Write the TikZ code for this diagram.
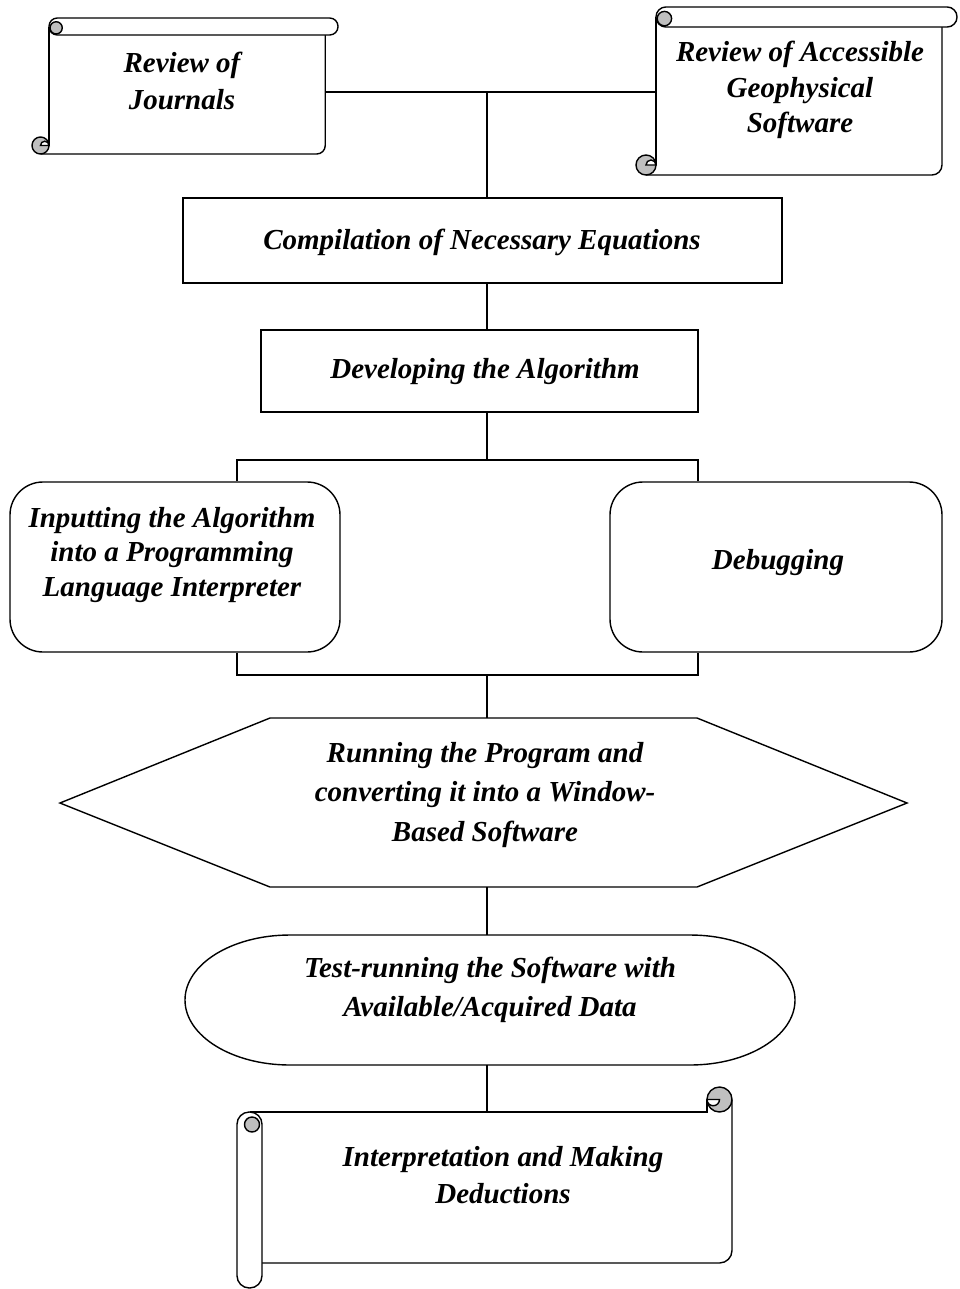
\documentclass[tikz,border=0pt]{standalone}
\usepackage{fontspec}
\setmainfont{Liberation Serif}
\usetikzlibrary{calc}
\definecolor{curlgray}{gray}{0.75}
% horizontal scroll: (left, top, right, bottom, roll)
\def\hscroll(#1,#2,#3,#4,#5){%
  \fill[white] ({#1+#5},{#2+#5/2}) rectangle ({#3-0.75*#5},#4);
  \draw ({#1+#5},{#2+#5/2}) -- ({#1+#5},{#4-#5/2});
  \draw[rounded corners={#5*0.1mm}] ({#1+#5/2},#4) -- ({#3-0.75*#5},#4) -- ({#3-0.75*#5},{#2+#5});
  \draw[fill=white, rounded corners={#5*0.098mm}] ({#1+#5},#2) rectangle (#3,{#2+#5});
  \draw[fill=curlgray] ({#1+1.42*#5},{#2+0.58*#5}) circle ({0.36*#5});
  \draw[fill=curlgray] ({#1+#5/2},{#4-#5/2}) circle ({#5/2});
  \draw[fill=white] ({#1+#5/2},{#4-#5/2}) arc[start angle=180, end angle=360, radius={#5/4}] -- cycle;
}
% vertical scroll: (left, top, right, bottom, roll)
\def\vscroll(#1,#2,#3,#4,#5){%
  \fill[white] ({#1+#5},{#2+#5}) rectangle (#3,{#4-#5});
  \draw ({#1+#5/2},{#2+#5}) -- ({#3-#5},{#2+#5}) -- ({#3-#5},{#2+#5/2});
  \draw[rounded corners={#5*0.1mm}] (#3,{#2+#5/2}) -- (#3,{#4-#5}) -- ({#1+#5},{#4-#5});
  \draw[fill=curlgray] ({#3-#5/2},{#2+#5/2}) circle ({#5/2});
  \draw[fill=white] ({#3-#5},{#2+#5/2}) arc[start angle=180, end angle=0, radius={#5/4}] -- cycle;
  \draw[fill=white, rounded corners={#5*0.098mm}] (#1,{#2+#5}) rectangle ({#1+#5},#4);
  \draw[fill=curlgray] ({#1+0.6*#5},{#2+1.5*#5}) circle ({0.3*#5});
}
\tikzset{
  lbl/.style={font=\bfseries\itshape\fontsize{16.5}{21.5}\selectfont, align=center, inner sep=0pt},
  procbox/.style={draw, inner sep=0pt},
  roundbox/.style={procbox, rounded corners=6.6mm},
}
\begin{document}
\begin{tikzpicture}[x=0.2mm, y=-0.2mm, line width=0.8pt]
  \useasboundingbox (0,0) rectangle (959,1289);

  %%%%% sources %%%%%
  \hscroll(32,18,338,154,17)
  \hscroll(636,7,957,175,20)
  \node[lbl] (journals) at (182,81) {Review of\\Journals};
  \node[lbl, font=\bfseries\itshape\fontsize{16.5}{20.4}\selectfont] (geosoft) at (800,90) {Review of Accessible\\Geophysical\\Software};
  \coordinate (journalsR) at (325,92);
  \coordinate (geosoftL) at (656,92);
  \coordinate (spine) at (487,92);

  %%%%% steps %%%%%
  \node[procbox, minimum width=119.8mm, minimum height=17mm] (compile) at (482.5,240.5) {};
  \node[lbl] at (482,242) {Compilation of Necessary Equations};
  \node[procbox, minimum width=87.4mm, minimum height=16.4mm] (develop) at (479.5,371) {};
  \node[lbl] at (485,372) {Developing the Algorithm};

  \node[roundbox, minimum width=66mm, minimum height=34mm] (inbox) at (175,567) {};
  \node[lbl, font=\bfseries\itshape\fontsize{16.5}{19.8}\selectfont] at (172,555) {Inputting the Algorithm\\into a Programming\\Language Interpreter};
  \node[roundbox, minimum width=66.4mm, minimum height=34mm] (debug) at (776,567) {};
  \node[lbl] at (778,563) {Debugging};

  \coordinate (splitL) at (237,460);
  \coordinate (splitR) at (698,460);
  \coordinate (mergeL) at (237,675);
  \coordinate (mergeR) at (698,675);

  \draw (60,803) -- (270,718) -- (697,718) -- (907,803) -- (697,887) -- (270,887) -- cycle;
  \node[lbl, font=\bfseries\itshape\fontsize{16.5}{22.3}\selectfont] (running) at (485,795) {Running the Program and\\converting it into a Window-\\Based Software};
  \coordinate (runN) at (487,718);
  \coordinate (runS) at (487,887);

  \draw (290,935) -- (690,935) arc[start angle=-90, end angle=90, x radius=105, y radius=65]
    -- (290,1065) arc[start angle=90, end angle=270, x radius=105, y radius=65] -- cycle;
  \node[lbl, font=\bfseries\itshape\fontsize{16.5}{22.6}\selectfont] (testrun) at (490,990) {Test-running the Software with\\Available/Acquired Data};
  \coordinate (testN) at (487,935);
  \coordinate (testS) at (487,1065);

  \vscroll(237,1087,732,1288,25)
  \node[lbl] (interp) at (503,1175) {Interpretation and Making\\Deductions};
  \coordinate (interpN) at (487,1112);

  %%%%% connectors %%%%%
  \draw (journalsR) -- (geosoftL);
  \draw (spine) -- (spine |- compile.north);
  \draw (spine |- compile.south) -- (spine |- develop.north);
  \draw (spine |- develop.south) -- (spine |- splitL);
  \draw (splitL |- inbox.north) -- (splitL) -- (splitR) -- (splitR |- debug.north);
  \draw (mergeL |- inbox.south) -- (mergeL) -- (mergeR) -- (mergeR |- debug.south);
  \draw (spine |- mergeL) -- (runN);
  \draw (runS) -- (testN);
  \draw (testS) -- (interpN);
\end{tikzpicture}
\end{document}
